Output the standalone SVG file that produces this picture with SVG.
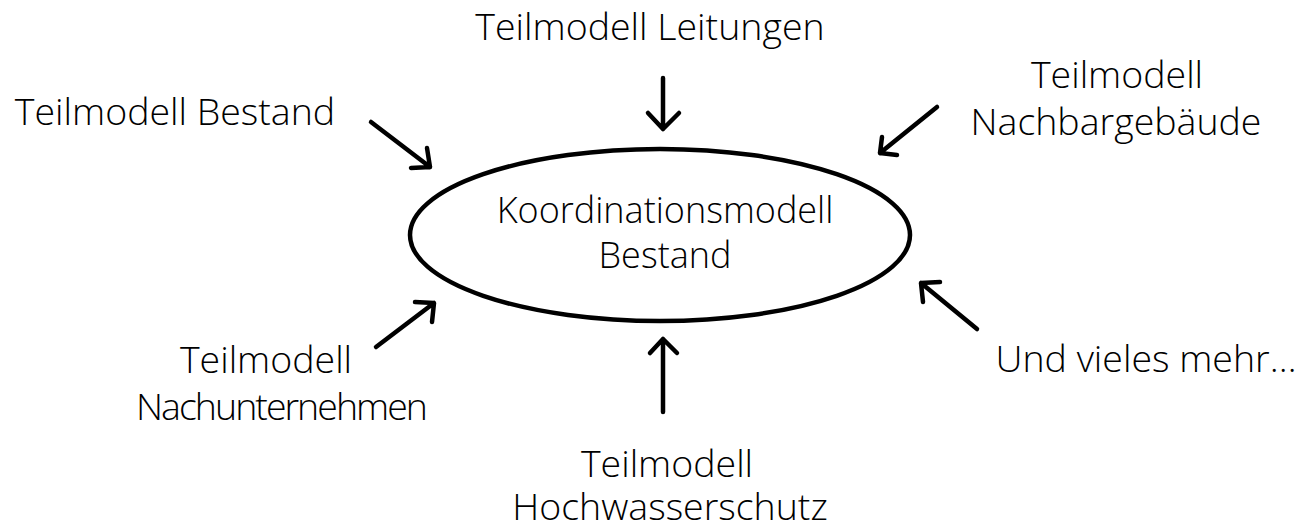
<svg xmlns="http://www.w3.org/2000/svg" width="1301" height="524" viewBox="0 0 1301 524">
<style>
text{font-family:"Open Sans","Liberation Sans",sans-serif;font-weight:300;font-size:37.5px;fill:#000;text-anchor:middle}
.c{font-size:36px}
.a{fill:none;stroke:#000;stroke-width:4.5;stroke-linecap:round;stroke-linejoin:round}
</style>
<rect width="1301" height="524" fill="#fff"/>
<g id="center">
<ellipse cx="660" cy="235" rx="250" ry="86" fill="#fff" stroke="#000" stroke-width="4.5"/>
<text class="c" x="665" y="223">Koordinationsmodell</text>
<text class="c" x="665" y="268">Bestand</text>
</g>
<g id="leitungen"><text x="650" y="40">Teilmodell Leitungen</text></g>
<g id="bestand"><text x="175" y="125">Teilmodell Bestand</text></g>
<g id="nachbar"><text x="1117" y="88">Teilmodell</text><text x="1116" y="135">Nachbargebäude</text></g>
<g id="nachunternehmen"><text x="266" y="373">Teilmodell</text><text x="282" y="420" textLength="292" lengthAdjust="spacing">Nachunternehmen</text></g>
<g id="mehr"><text x="1146" y="372">Und vieles mehr…</text></g>
<g id="hochwasser"><text x="667" y="477">Teilmodell</text><text x="670" y="520">Hochwasserschutz</text></g>
<g id="connectors" class="a">
<path d="M663 78V129M648 113L663 129L679 113"/>
<path d="M371 122L430 167M411 168L430 167L427 148"/>
<path d="M937 107L880 153M882 137L880 153L897 155"/>
<path d="M376 347L434 303M415 302L434 303L432 322"/>
<path d="M977 329L921 283M940 282L921 283L923 302"/>
<path d="M663 412V339M650 353L663 339L677 353"/>
</g>
</svg>
